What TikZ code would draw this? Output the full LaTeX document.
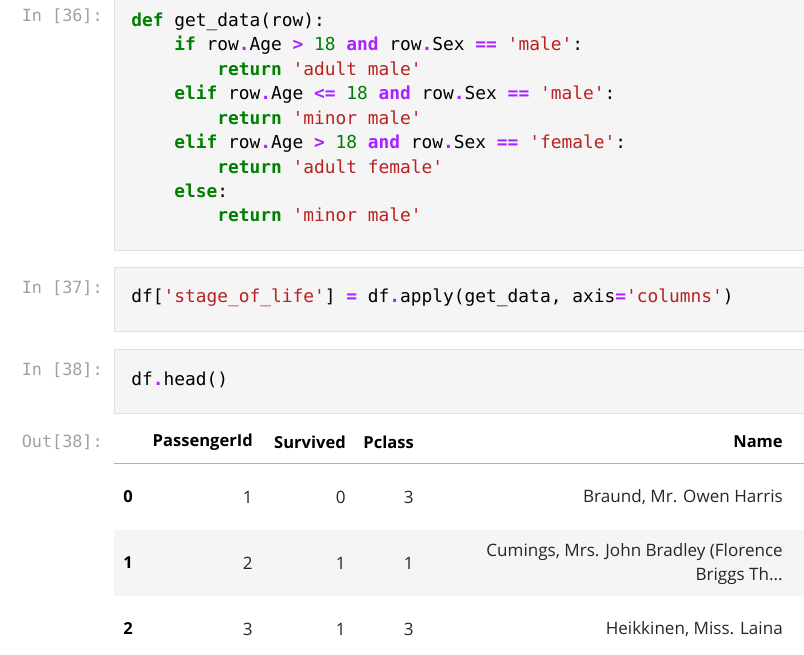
\documentclass[tikz,border=0pt]{standalone}
\usepackage{fontspec}
\setmainfont{Open Sans}
\setmonofont{DejaVu Sans Mono}
\definecolor{kwgreen}{HTML}{008000}
\definecolor{oppurple}{HTML}{AA22FF}
\definecolor{strred}{HTML}{BA2121}
\definecolor{promptgray}{HTML}{A0A0A0}
\definecolor{cellbg}{HTML}{F5F5F5}
\definecolor{cellline}{HTML}{E0E0E0}
\definecolor{rowbg}{HTML}{F5F5F5}
\newcommand{\kw}[1]{\textcolor{kwgreen}{\bfseries #1}}
\newcommand{\op}[1]{\textcolor{oppurple}{\bfseries #1}}
\newcommand{\str}[1]{\textcolor{strred}{#1}}
\newcommand{\num}[1]{\textcolor{kwgreen}{#1}}
\begin{document}
\begin{tikzpicture}[x=0.75pt,y=-0.75pt,
  cell/.style={fill=cellbg,draw=cellline},
  prompt/.style={anchor=east,text=promptgray,font=\ttfamily\fontsize{12.6}{14}\selectfont,inner sep=0},
  code/.style={anchor=west,font=\ttfamily\fontsize{13.4}{15}\selectfont,inner sep=0,text height=9.5pt,text depth=2.5pt},
  hdr/.style={anchor=east,font=\bfseries\fontsize{12.4}{14}\selectfont,inner sep=0},
  val/.style={anchor=east,font=\fontsize{12.8}{15}\selectfont,inner sep=0,text=black!85},
  idx/.style={anchor=west,font=\bfseries\fontsize{12.4}{14}\selectfont,inner sep=0}]
\useasboundingbox (0,0) rectangle (804,654);
% cells
\draw[cell] (114,-2) rectangle (806,250);
\draw[cell] (114,267) rectangle (806,331);
\draw[cell] (114,349) rectangle (806,413);
% prompts
\node[prompt] (p36) at (103,16) {In [36]:};
\node[prompt] (p37) at (103,288) {In [37]:};
\node[prompt] (p38) at (103,370) {In [38]:};
\node[prompt] (o38) at (103,442) {Out[38]:};
% code of cell 36
\node[code] (l1) at (131,22)  {\kw{def} get\_data(row):};
\node[code] (l2) at (131,46)  {\phantom{xxxx}\kw{if} row\op{.}Age \op{>} \num{18} \op{and} row\op{.}Sex \op{==} \str{'male'}:};
\node[code] (l3) at (131,71)  {\phantom{xxxxxxxx}\kw{return} \str{'adult male'}};
\node[code] (l4) at (131,95)  {\phantom{xxxx}\kw{elif} row\op{.}Age \op{<=} \num{18} \op{and} row\op{.}Sex \op{==} \str{'male'}:};
\node[code] (l5) at (131,120) {\phantom{xxxxxxxx}\kw{return} \str{'minor male'}};
\node[code] (l6) at (131,144) {\phantom{xxxx}\kw{elif} row\op{.}Age \op{>} \num{18} \op{and} row\op{.}Sex \op{==} \str{'female'}:};
\node[code] (l7) at (131,169) {\phantom{xxxxxxxx}\kw{return} \str{'adult female'}};
\node[code] (l8) at (131,193) {\phantom{xxxx}\kw{else}:};
\node[code] (l9) at (131,217) {\phantom{xxxxxxxx}\kw{return} \str{'minor male'}};
% cells 37 and 38
\node[code] (c37) at (131,298) {df[\str{'stage\_of\_life'}] \op{=} df\op{.}apply(get\_data, axis\op{=}\str{'columns'})};
\node[code] (c38) at (131,381) {df\op{.}head()};
% table
\fill[rowbg] (114,530) rectangle (804,596);
\draw[black!30] (114,463) -- (804,463);
\node[hdr] (hId) at (253,442) {PassengerId};
\node[hdr] (hSu) at (346,442) {Survived};
\node[hdr] (hPc) at (414,442) {Pclass};
\node[hdr] (hNa) at (783,442) {Name};
\foreach \i/\y/\pid/\sv/\pc in {0/497/1/0/3, 1/563/2/1/1, 2/629/3/1/3}{
  \node[idx] (r\i) at (123,\y) {\i};
  \node[val] (id\i) at (253,\y) {\pid};
  \node[val] (sv\i) at (346,\y) {\sv};
  \node[val] (pc\i) at (414,\y) {\pc};
}
\node[val] (n0) at (783,497) {Braund, Mr. Owen Harris};
\node[val] (n1a) at (783,552) {Cumings, Mrs. John Bradley (Florence};
\node[val] (n1b) at (783,576) {Briggs Th...};
\node[val] (n2) at (783,629) {Heikkinen, Miss. Laina};
\end{tikzpicture}
\end{document}
